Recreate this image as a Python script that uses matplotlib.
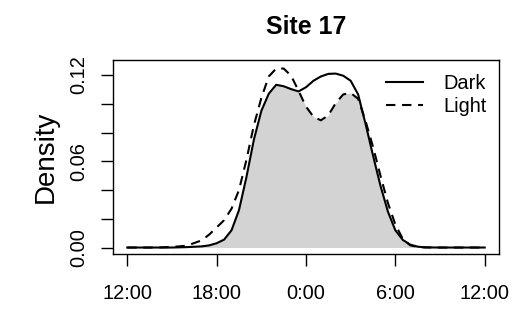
import matplotlib
matplotlib.use('Agg')
import matplotlib.pyplot as plt
import numpy as np

plt.rcParams['font.family'] = ['Liberation Sans', 'DejaVu Sans']

# hours after noon (0 = 12:00, 12 = 0:00, 24 = 12:00 next day)
hours = [0, 1, 2, 3, 4, 5, 5.5, 6, 6.5, 7, 7.5, 8, 8.5, 9, 9.5, 10, 10.5, 11,
         11.5, 12, 12.5, 13, 13.5, 14, 14.5, 15, 15.5, 16, 16.5, 17, 17.5,
         18, 18.5, 19, 19.5, 20, 21, 22, 23, 24]
dark = [0, 0, 0, 0, 0.0003, 0.0008, 0.0015, 0.003, 0.0055, 0.012, 0.026,
        0.049, 0.075, 0.095, 0.107, 0.1132, 0.1122, 0.1102, 0.1086, 0.1115,
        0.1160, 0.1190, 0.1208, 0.1210, 0.1195, 0.1160, 0.1065, 0.086,
        0.064, 0.043, 0.025, 0.012, 0.0053, 0.002, 0.0006, 0.0001, 0, 0, 0, 0]
light = [0, 0, 0, 0.0004, 0.0013, 0.005, 0.009, 0.014, 0.019, 0.027, 0.040,
         0.061, 0.085, 0.104, 0.119, 0.1245, 0.1245, 0.1195, 0.109, 0.098,
         0.091, 0.0885, 0.092, 0.1005, 0.1065, 0.1075, 0.1035, 0.088, 0.070,
         0.050, 0.031, 0.016, 0.006, 0.0015, 0.0004, 0.0001, 0, 0, 0, 0]
xticks = [0, 6, 12, 18, 24]
xlabels = ['12:00', '18:00', '0:00', '6:00', '12:00']
yticks = [0, 0.02, 0.04, 0.06, 0.08, 0.10, 0.12]
ylabels = ['0.00', '', '', '0.06', '', '', '0.12']

fig = plt.figure(figsize=(5.12, 3.09), dpi=100)
ax = fig.add_axes([113 / 512, 1 - 254 / 309, 386 / 512, 193.5 / 309])

ax.fill_between(hours, 0, np.minimum(dark, light), color='#d3d3d3', lw=0)
ax.plot(hours, dark, color='black', lw=1.5, label='Dark')
ax.plot(hours, light, color='black', lw=1.5, linestyle=(0, (4.5, 3.2)), label='Light')

ax.set_xlim(-0.96, 24.96)
ax.set_ylim(-0.0045, 0.1301)
ax.set_xticks(xticks)
ax.set_xticklabels(xlabels)
ax.set_yticks(yticks)
ax.set_yticklabels(ylabels, rotation=90, va='center')
ax.tick_params(labelsize=14.4, length=8.6, width=1)
ax.tick_params(axis='x', pad=13)
ax.tick_params(axis='y', pad=9)
for s in ax.spines.values():
    s.set_linewidth(1)

ax.set_title('Site 17', fontsize=17.9, fontweight='bold', pad=19)
ax.set_ylabel('Density', fontsize=20, labelpad=8)

ax.legend(frameon=False, fontsize=14.4, loc='upper left',
          bbox_to_anchor=(386 / 512, 1 - 74 / 309), bbox_transform=fig.transFigure,
          borderpad=0, borderaxespad=0, handlelength=1.85, handletextpad=1.0,
          labelspacing=0.2)

fig.savefig('out.png', dpi=100)
